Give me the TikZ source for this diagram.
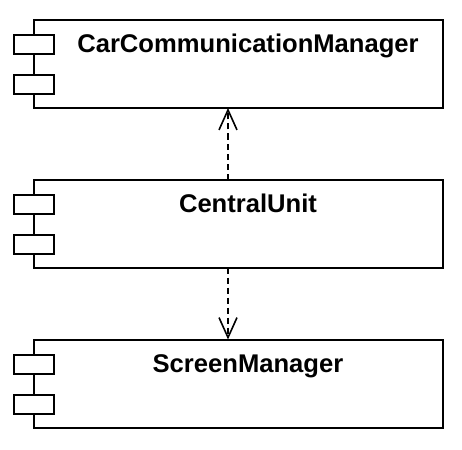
\documentclass[tikz,border=0pt]{standalone}
\usepackage{fontspec}
\setmainfont{Liberation Sans}
\usetikzlibrary{arrows.meta}

\begin{document}
\begin{tikzpicture}[x=1pt, y=-1pt,
  comp/.style={draw, line width=2pt, minimum width=408.5pt, minimum height=88pt, inner sep=0pt, outer sep=0pt, anchor=north west},
  port/.style={draw, fill=white, line width=2pt, minimum width=39.5pt, minimum height=19.5pt, inner sep=0pt, outer sep=0pt, anchor=north west},
  title/.style={anchor=base, font={\bfseries\fontsize{25.6}{25.6}\selectfont}},
  dep/.style={line width=1.6pt, dash pattern=on 6pt off 4pt, -{Straight Barb[length=20pt, width=18pt]}}]
\useasboundingbox (0,0) rectangle (462,449);
% car communication manager
\node[comp] (ccm) at (34,20) {};
\node[port] (ccmport1) at (14.3,35) {};
\node[port] (ccmport2) at (14.3,75) {};
\node[title] (ccmtext) at (248,53) {CarCommunicationManager};
% central unit
\node[comp] (cu) at (34,179.5) {};
\node[port] (cuport1) at (14.3,194.5) {};
\node[port] (cuport2) at (14.3,234.5) {};
\node[title] (cutext) at (248,212.5) {CentralUnit};
% screen manager
\node[comp] (sm) at (34,339.5) {};
\node[port] (smport1) at (14.3,354.5) {};
\node[port] (smport2) at (14.3,394.5) {};
\node[title] (smtext) at (248,372.5) {ScreenManager};
% dependencies
\coordinate (ax) at (228,0);
\draw[dep] (ax |- cu.north) -- (ax |- ccm.south);
\draw[dep] (ax |- cu.south) -- (ax |- sm.north);
\end{tikzpicture}
\end{document}
